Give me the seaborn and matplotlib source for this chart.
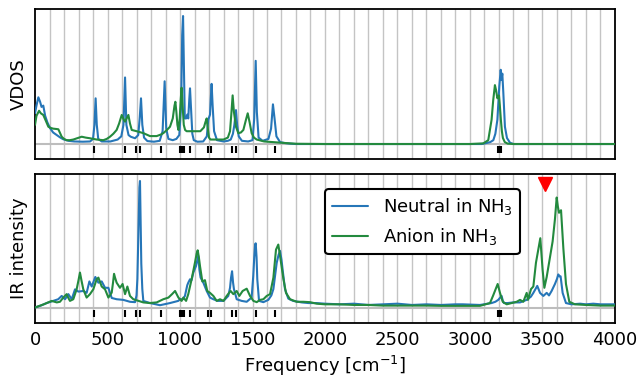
import numpy as np
import pandas as pd
import matplotlib
matplotlib.use("Agg")
import matplotlib.pyplot as plt
import seaborn as sns

# ---------------- data ----------------
vdos_neutral_f = [0, 10, 23, 35, 45, 57, 70, 85, 103, 125, 150, 175, 195, 230, 270, 330, 380, 400, 410, 418, 426, 436,
                  460, 520, 570, 595, 610, 621, 630, 645, 660, 690, 712, 722, 731, 740, 752, 775, 820, 860, 880, 894,
                  905, 920, 950, 975, 995, 1008, 1015, 1021, 1027, 1033, 1042, 1050, 1057, 1064, 1069, 1075, 1085,
                  1095, 1120, 1160, 1185, 1195, 1207, 1212, 1218, 1225, 1235, 1255, 1300, 1330, 1350, 1365, 1375,
                  1386, 1394, 1405, 1427, 1470, 1500, 1512, 1522, 1530, 1542, 1570, 1610, 1628, 1641, 1652, 1665,
                  1690, 1720, 1760, 1800, 2000, 2500, 3000, 3080, 3103, 3140, 3161, 3175, 3189, 3202, 3212, 3217,
                  3223, 3230, 3241, 3255, 3276, 3300, 3500, 4000]
vdos_neutral_v = [0.24, 0.30, 0.365, 0.33, 0.29, 0.30, 0.22, 0.17, 0.125, 0.09, 0.07, 0.05, 0.037, 0.025, 0.02, 0.018,
                  0.02, 0.04, 0.15, 0.357, 0.15, 0.04, 0.02, 0.02, 0.035, 0.06, 0.15, 0.52, 0.15, 0.07, 0.057, 0.045,
                  0.07, 0.2, 0.357, 0.15, 0.05, 0.023, 0.018, 0.025, 0.1, 0.49, 0.12, 0.04, 0.03, 0.04, 0.07, 0.3,
                  0.85, 1.0, 0.6, 0.2, 0.2, 0.23, 0.2, 0.35, 0.435, 0.3, 0.08, 0.03, 0.018, 0.02, 0.06, 0.19, 0.23,
                  0.35, 0.47, 0.3, 0.1, 0.03, 0.02, 0.025, 0.035, 0.08, 0.15, 0.265, 0.15, 0.06, 0.025, 0.02, 0.03,
                  0.2, 0.65, 0.25, 0.05, 0.025, 0.04, 0.12, 0.31, 0.2, 0.06, 0.015, 0.008, 0.003, 0.0, 0.0, 0.0, 0.0,
                  0.0, 0.005, 0.015, 0.03, 0.08, 0.19, 0.45, 0.58, 0.5, 0.55, 0.4, 0.135, 0.047, 0.01, 0.0, 0.0, 0.0]

vdos_anion_f = [0, 10, 28, 40, 57, 75, 92, 110, 126, 150, 161, 175, 184, 200, 218, 240, 264, 290, 322, 350, 379, 425,
                471, 495, 517, 540, 563, 580, 598, 612, 621, 632, 644, 655, 667, 701, 747, 793, 839, 870, 885, 910,
                931, 950, 962, 968, 975, 982, 989, 998, 1005, 1011, 1018, 1026, 1035, 1046, 1070, 1100, 1140, 1165,
                1175, 1184, 1192, 1200, 1210, 1250, 1300, 1330, 1345, 1355, 1363, 1372, 1386, 1402, 1420, 1437,
                1455, 1467, 1480, 1494, 1510, 1529, 1580, 1640, 1700, 1760, 1800, 2000, 2500, 3000, 3092, 3126,
                3149, 3160, 3172, 3180, 3189, 3195, 3200, 3206, 3213, 3220, 3227, 3240, 3260, 3300, 3500, 4000]
vdos_anion_v = [0.15, 0.22, 0.26, 0.24, 0.227, 0.18, 0.135, 0.125, 0.12, 0.117, 0.115, 0.08, 0.057, 0.04, 0.03, 0.03,
                0.035, 0.045, 0.057, 0.05, 0.045, 0.035, 0.03, 0.04, 0.057, 0.08, 0.11, 0.16, 0.227, 0.19, 0.175,
                0.2, 0.227, 0.16, 0.11, 0.1, 0.085, 0.062, 0.062, 0.075, 0.085, 0.11, 0.135, 0.2, 0.3, 0.33, 0.25,
                0.15, 0.11, 0.2, 0.35, 0.44, 0.3, 0.15, 0.11, 0.1, 0.1, 0.1, 0.1, 0.13, 0.17, 0.2, 0.12, 0.05,
                0.035, 0.035, 0.035, 0.05, 0.1, 0.25, 0.38, 0.25, 0.135, 0.085, 0.09, 0.11, 0.19, 0.24, 0.17,
                0.085, 0.05, 0.035, 0.02, 0.015, 0.01, 0.005, 0.002, 0.0, 0.0, 0.0, 0.005, 0.03, 0.19, 0.34, 0.46,
                0.42, 0.357, 0.37, 0.38, 0.3, 0.19, 0.1, 0.047, 0.015, 0.003, 0.0, 0.0, 0.0]

ir_neutral_f = [0, 40, 81, 126, 160, 184, 207, 230, 253, 276, 299, 333, 356, 375, 391, 416, 437, 460, 483, 506, 529,
                563, 609, 655, 690, 700, 706, 713, 720, 724, 728, 733, 740, 747, 793, 862, 931, 988, 1000, 1020,
                1034, 1050, 1057, 1069, 1080, 1092, 1110, 1126, 1134, 1142, 1161, 1184, 1207, 1230, 1260, 1300,
                1333, 1345, 1352, 1359, 1366, 1372, 1391, 1425, 1460, 1494, 1505, 1512, 1518, 1522, 1528, 1533,
                1545, 1575, 1609, 1630, 1644, 1655, 1667, 1680, 1690, 1700, 1708, 1724, 1747, 1780, 1840, 1885,
                1940, 2000, 2100, 2200, 2300, 2400, 2500, 2600, 2700, 2800, 2900, 2950, 3069, 3149, 3175, 3195,
                3210, 3218, 3226, 3234, 3260, 3299, 3345, 3391, 3420, 3437, 3464, 3483, 3506, 3529, 3545, 3563,
                3586, 3600, 3609, 3618, 3625, 3639, 3662, 3700, 3760, 3800, 3850, 3900, 4000]
ir_neutral_v = [0.005, 0.02, 0.04, 0.057, 0.07, 0.096, 0.07, 0.11, 0.07, 0.148, 0.13, 0.135, 0.12, 0.21, 0.17, 0.245,
                0.2, 0.21, 0.16, 0.16, 0.08, 0.07, 0.065, 0.05, 0.047, 0.1, 0.23, 0.6, 0.95, 1.0, 0.7, 0.35, 0.15,
                0.057, 0.04, 0.023, 0.04, 0.057, 0.07, 0.07, 0.096, 0.18, 0.2, 0.227, 0.22, 0.28, 0.33, 0.41, 0.3,
                0.24, 0.2, 0.135, 0.083, 0.07, 0.057, 0.057, 0.096, 0.16, 0.24, 0.29, 0.2, 0.15, 0.07, 0.057, 0.05,
                0.083, 0.25, 0.4, 0.5, 0.51, 0.4, 0.227, 0.057, 0.047, 0.065, 0.1, 0.15, 0.25, 0.357, 0.42, 0.45,
                0.38, 0.3, 0.15, 0.075, 0.057, 0.045, 0.04, 0.04, 0.035, 0.03, 0.035, 0.025, 0.03, 0.035, 0.025,
                0.03, 0.025, 0.03, 0.03, 0.025, 0.04, 0.05, 0.065, 0.085, 0.096, 0.06, 0.04, 0.04, 0.045, 0.045,
                0.065, 0.09, 0.12, 0.175, 0.12, 0.096, 0.12, 0.1, 0.135, 0.19, 0.23, 0.265, 0.25, 0.25, 0.12, 0.04,
                0.03, 0.035, 0.03, 0.035, 0.03, 0.03]

ir_anion_f = [0, 60, 115, 150, 172, 195, 218, 230, 241, 264, 287, 300, 310, 320, 333, 356, 379, 402, 425, 437, 450,
              460, 483, 506, 529, 538, 545, 552, 563, 586, 604, 621, 637, 655, 678, 713, 747, 790, 839, 885, 920,
              945, 966, 989, 1011, 1023, 1042, 1057, 1080, 1103, 1115, 1122, 1130, 1138, 1154, 1172, 1188, 1207,
              1230, 1253, 1276, 1300, 1322, 1349, 1368, 1391, 1409, 1432, 1460, 1483, 1506, 1529, 1552, 1575,
              1598, 1621, 1644, 1662, 1678, 1694, 1713, 1731, 1759, 1805, 1851, 1897, 1943, 2000, 2100, 2200,
              2300, 2400, 2500, 2600, 2700, 2800, 2931, 3069, 3138, 3160, 3172, 3191, 3207, 3226, 3253, 3287,
              3322, 3345, 3368, 3391, 3400, 3421, 3437, 3455, 3471, 3485, 3493, 3501, 3513, 3529, 3552, 3570,
              3586, 3598, 3606, 3614, 3628, 3644, 3662, 3685, 3724, 3800, 3900, 4000]
ir_anion_v = [0.005, 0.03, 0.057, 0.045, 0.05, 0.083, 0.11, 0.08, 0.057, 0.07, 0.148, 0.22, 0.28, 0.22, 0.148, 0.083,
              0.11, 0.148, 0.227, 0.24, 0.2, 0.17, 0.148, 0.083, 0.122, 0.2, 0.27, 0.24, 0.2, 0.16, 0.19, 0.11,
              0.17, 0.096, 0.07, 0.057, 0.045, 0.04, 0.045, 0.07, 0.083, 0.11, 0.135, 0.083, 0.057, 0.083, 0.057,
              0.11, 0.227, 0.357, 0.43, 0.455, 0.4, 0.33, 0.21, 0.22, 0.135, 0.12, 0.096, 0.057, 0.07, 0.057,
              0.096, 0.135, 0.11, 0.135, 0.096, 0.135, 0.153, 0.096, 0.057, 0.047, 0.065, 0.07, 0.096, 0.11, 0.24,
              0.46, 0.5, 0.38, 0.23, 0.12, 0.07, 0.05, 0.05, 0.047, 0.035, 0.03, 0.03, 0.025, 0.025, 0.02, 0.02,
              0.02, 0.02, 0.018, 0.018, 0.018, 0.04, 0.1, 0.135, 0.19, 0.12, 0.05, 0.03, 0.04, 0.05, 0.065, 0.05,
              0.12, 0.065, 0.15, 0.17, 0.357, 0.46, 0.55, 0.42, 0.3, 0.16, 0.245, 0.4, 0.525, 0.7, 0.87, 0.8,
              0.75, 0.77, 0.47, 0.19, 0.05, 0.03, 0.025, 0.02, 0.02]

harmonic_freqs = [407, 621, 697, 724, 869, 1000, 1012, 1028, 1071, 1195, 1214, 1361, 1386, 1524, 1655,
                  3195, 3204, 3213]
marker_freq = [3517]
marker_val = [0.98]

series_names = ["Neutral in NH$_3$", "Anion in NH$_3$"]
colors = ["#2676b8", "#238a3e"]

# ---------------- build tables ----------------
vdos_df = pd.concat([
    pd.DataFrame({"freq": vdos_neutral_f, "val": vdos_neutral_v, "series": series_names[0]}),
    pd.DataFrame({"freq": vdos_anion_f, "val": vdos_anion_v, "series": series_names[1]}),
], ignore_index=True)
ir_df = pd.concat([
    pd.DataFrame({"freq": ir_neutral_f, "val": ir_neutral_v, "series": series_names[0]}),
    pd.DataFrame({"freq": ir_anion_f, "val": ir_anion_v, "series": series_names[1]}),
], ignore_index=True)

sns.set_style("white")
plt.rcParams["font.family"] = ["DejaVu Sans"]
plt.rcParams["font.size"] = 13
plt.rcParams["text.color"] = "black"
plt.rcParams["axes.labelcolor"] = "black"
plt.rcParams["xtick.color"] = "black"
plt.rcParams["ytick.color"] = "black"

fig = plt.figure(figsize=(6.39, 3.81), dpi=100)
ax1 = fig.add_axes([0.0548, 0.5827, 0.9076, 0.3937])
ax2 = fig.add_axes([0.0548, 0.1522, 0.9076, 0.3911])

palette = dict(zip(series_names, colors))

for ax, df, lab in [(ax1, vdos_df, "VDOS"), (ax2, ir_df, "IR intensity")]:
    for f in range(100, 4000, 100):
        ax.axvline(f, color="#c4c4c4", lw=1.0, zorder=0)
    ax.axhline(0, color="#bdbdbd", lw=1.5, zorder=1)
    ax.vlines(harmonic_freqs, -0.072, -0.012, color="black", lw=1.5, zorder=2)
    sns.lineplot(data=df, x="freq", y="val", hue="series", palette=palette,
                 estimator=None, sort=False, lw=1.5, ax=ax, legend=(ax is ax2), zorder=3)
    ax.set_xlim(0, 4000)
    ax.set_ylim(-0.117, 1.055)
    ax.set_yticks([])
    ax.set_ylabel(lab, fontsize=13, labelpad=5)
    for s in ax.spines.values():
        s.set_color("black")
        s.set_linewidth(1.3)

ax1.set_xlabel("")
ax1.set_xticklabels([])
ax1.tick_params(axis="x", length=0)
ax2.set_xticks(range(0, 4001, 500))
ax2.tick_params(axis="x", length=0, labelsize=13, pad=6)
ax2.set_xlabel("Frequency [cm$^{-1}$]", fontsize=13, labelpad=3)

ax2.plot(marker_freq, marker_val, marker="v", color="red", ms=10, ls="none", zorder=4)

leg = ax2.legend(loc="upper left", bbox_to_anchor=(0.5, 0.9), borderaxespad=0,
                 fontsize=13, frameon=True, fancybox=True, framealpha=1,
                 handlelength=2.0, title=None)
leg.get_frame().set_edgecolor("black")
leg.get_frame().set_linewidth(1.5)
for h in leg.get_lines():
    h.set_linewidth(1.5)

fig.savefig("out.png", dpi=100)
